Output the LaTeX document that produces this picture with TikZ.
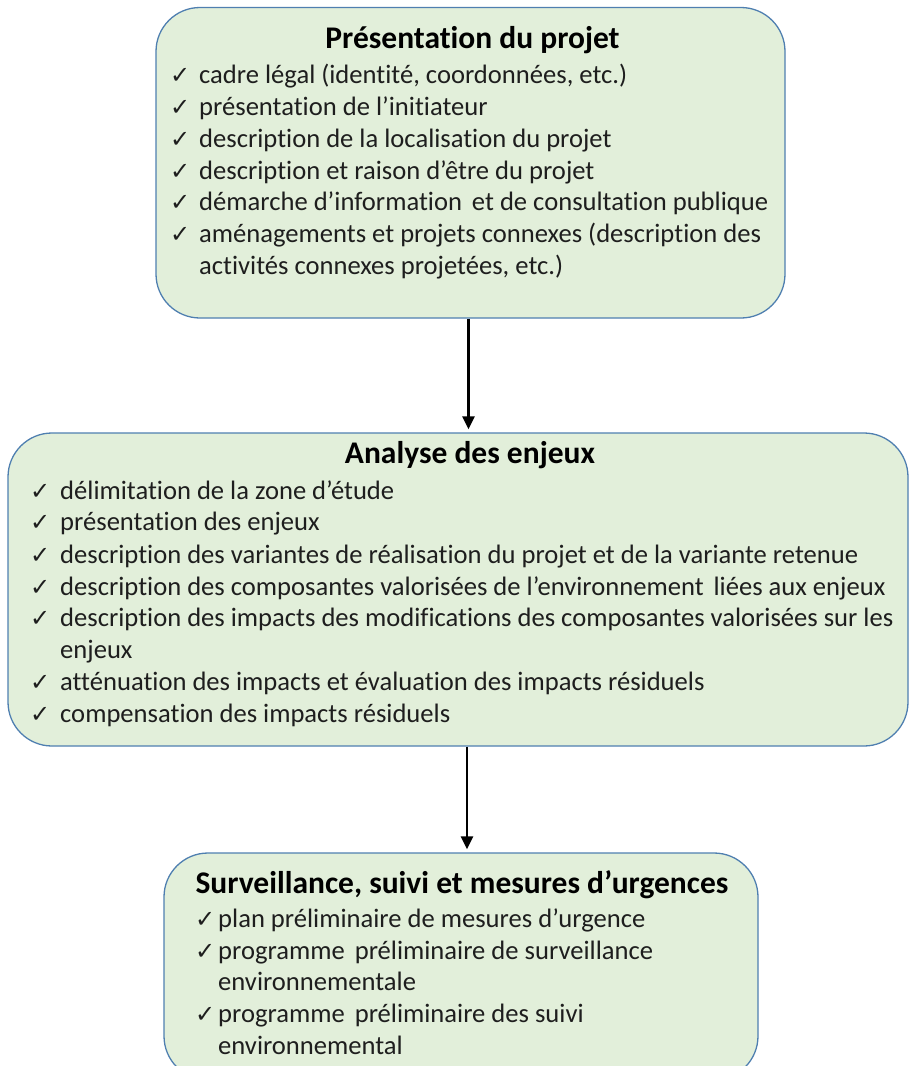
\documentclass[tikz,border=0pt]{standalone}
\usepackage{fontspec}
\setmainfont[Ligatures=NoCommon]{Carlito}
\newfontfamily\checkfont{DejaVu Sans}
\usetikzlibrary{arrows.meta}
\definecolor{boxfill}{HTML}{E2EFDA}
\definecolor{boxline}{HTML}{4F7FB0}
\definecolor{txt}{HTML}{1E1E1E}
\tikzset{
  panel/.style={draw=boxline, line width=1.3pt, fill=boxfill, rounded corners=44pt,
    inner sep=0pt, rectangle},
  heading/.style={anchor=base, inner sep=0pt, text=black,
    font=\fontsize{31.5}{36}\selectfont\bfseries},
  item/.style={anchor=base west, inner sep=0pt, text=txt,
    font=\fontsize{26.6}{32}\selectfont},
  tick/.style={anchor=base west, inner sep=0pt, text=txt,
    font=\checkfont\fontsize{24}{32}\selectfont},
  flow/.style={line width=2.8pt, -{Triangle[length=13pt,width=12pt]}, shorten >=3pt}
}
\begin{document}
\begin{tikzpicture}[x=1pt, y=-1pt]
\useasboundingbox (0,0) rectangle (912,1066);
\clip (0,0) rectangle (912,1066);

% three panels
\node[panel, minimum width=629pt, minimum height=310.5pt] (p1) at (470.5,162.75) {};
\node[panel, minimum width=900pt, minimum height=313pt] (p2) at (458,589.5) {};
\node[panel, minimum width=594pt, minimum height=227pt] (p3) at (461,966.5) {};

% connectors
\coordinate (c1) at (468.5,0);
\coordinate (c2) at (467,0);
\draw[flow] (p1.south -| c1) -- (p2.north -| c1);
\draw[flow] (p2.south -| c2) -- (p3.north -| c2);

% first panel
\node[heading] (h1) at (472.5,48.3) {Présentation du projet};
\node[tick] (t11) at (170,83.5) {✓};
\node[item] (i11) at (199,83.5) {cadre légal (identité, coordonnées, etc.)};
\node[tick] (t12) at (170,115) {✓};
\node[item] (i12) at (199,115) {présentation de l’initiateur};
\node[tick] (t13) at (170,147) {✓};
\node[item] (i13) at (199,147) {description de la localisation du projet};
\node[tick] (t14) at (170,179) {✓};
\node[item] (i14) at (199,179) {description et raison d’être du projet};
\node[tick] (t15) at (170,210.7) {✓};
\node[item] (i15) at (199,210.7) {démarche d’information\hspace{4pt} et de consultation publique};
\node[tick] (t16) at (170,242.4) {✓};
\node[item] (i16) at (199,242.4) {aménagements et projets connexes (description des};
\node[item] (i17) at (199,274) {activités connexes projetées, etc.)};

% second panel
\node[heading] (h2) at (470,463.8) {Analyse des enjeux};
\node[tick] (t21) at (30,499) {✓};
\node[item] (i21) at (60,499) {délimitation de la zone d’étude};
\node[tick] (t22) at (30,530.7) {✓};
\node[item] (i22) at (60,530.7) {présentation des enjeux};
\node[tick] (t23) at (30,563) {✓};
\node[item] (i23) at (60,563) {description des variantes de réalisation du projet et de la variante retenue};
\node[tick] (t24) at (30,595) {✓};
\node[item] (i24) at (60,595) {description des composantes valorisées de l’environnement\hspace{4pt} liées aux enjeux};
\node[tick] (t25) at (30,626.7) {✓};
\node[item] (i25) at (60,626.7) {description des impacts des modifications des composantes valorisées sur les};
\node[item] (i26) at (60,658.7) {enjeux};
\node[tick] (t27) at (30,690.7) {✓};
\node[item] (i27) at (60,690.7) {atténuation des impacts et évaluation des impacts résiduels};
\node[tick] (t28) at (30,722.4) {✓};
\node[item] (i28) at (60,722.4) {compensation des impacts résiduels};

% third panel
\node[heading] (h3) at (462,893.8) {Surveillance, suivi et mesures d’urgences};
\node[tick] (t31) at (195,927.4) {✓};
\node[item] (i31) at (218,927.4) {plan préliminaire de mesures d’urgence};
\node[tick] (t32) at (195,959) {✓};
\node[item] (i32) at (218,959) {programme\hspace{4pt} préliminaire de surveillance};
\node[item] (i33) at (218,990.7) {environnementale};
\node[tick] (t34) at (195,1022.4) {✓};
\node[item] (i34) at (218,1022.4) {programme\hspace{4pt} préliminaire des suivi};
\node[item] (i35) at (218,1054) {environnemental};
\end{tikzpicture}
\end{document}
